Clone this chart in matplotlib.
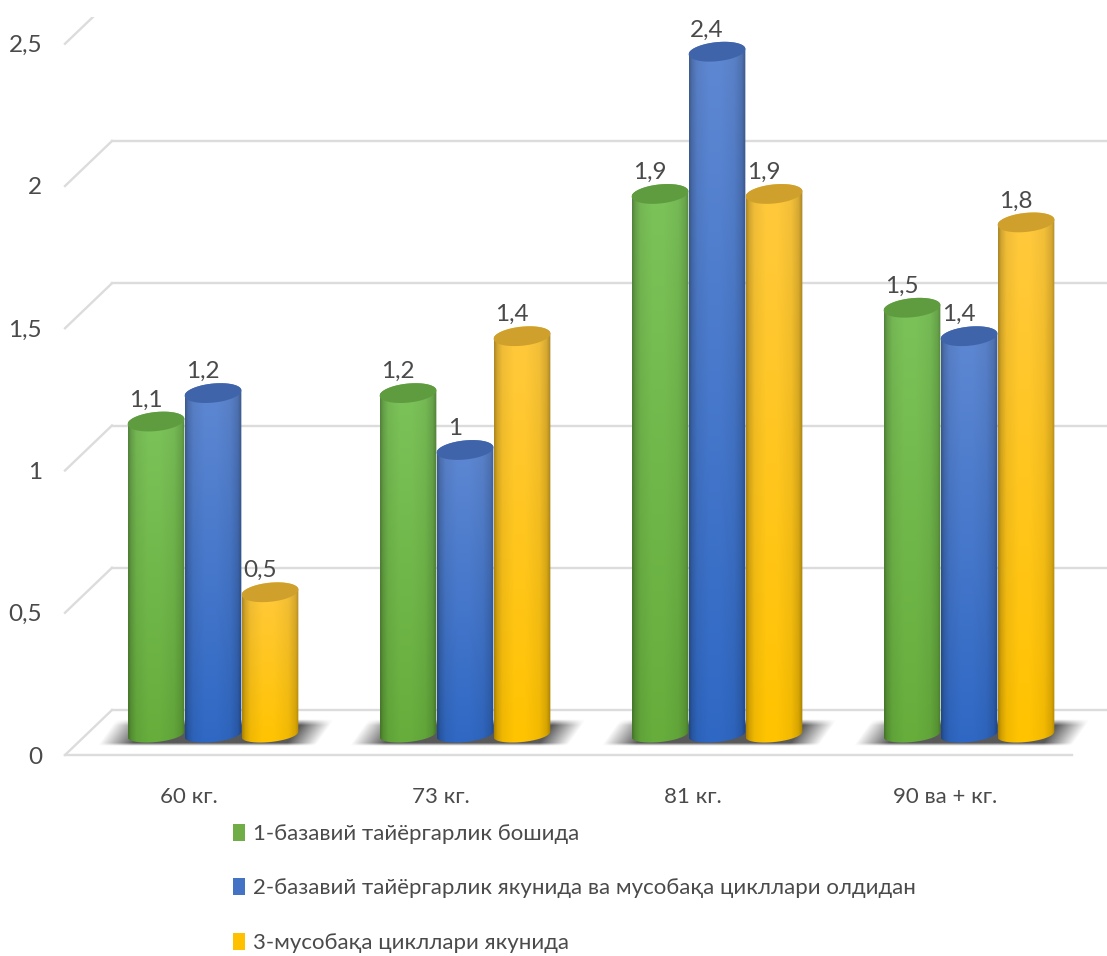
import numpy as np
import matplotlib
matplotlib.use("Agg")
import matplotlib.pyplot as plt
from matplotlib.patches import Patch, Polygon, Rectangle
from matplotlib.colors import to_rgb

plt.rcParams['font.family'] = ['Lato', 'DejaVu Sans']

categories = ["60 кг.", "73 кг.", "81 кг.", "90 ва + кг."]
series_names = ["1-базавий тайёргарлик бошида",
                "2-базавий тайёргарлик якунида ва мусобақа цикллари олдидан",
                "3-мусобақа цикллари якунида"]
stage_1 = [1.1, 1.2, 1.9, 1.5]
stage_2 = [1.2, 1.0, 2.4, 1.4]
stage_3 = [0.5, 1.4, 1.9, 1.8]
y_ticks = [0, 0.5, 1, 1.5, 2, 2.5]

W, H = 1107, 956
PX_X = 252.0      # pixels per category
PX_Y = 284.5      # pixels per unit of value
X0_PX = 213.0     # pixel position of the first group
Y0_PX = 734.5     # pixel position of value 0 at the bar axis
BAR_PX = 57.0
CAP_A, CAP_B, CAP_TILT = 28.5, 9.5, np.radians(6)

BACK = (Y0_PX - 710) / PX_Y     # value shift of the back wall
FRONT = (755 - Y0_PX) / PX_Y    # value shift of the front edge
FLOOR_L_BACK = (112 - X0_PX) / PX_X
FLOOR_L_FRONT = (65 - X0_PX) / PX_X
FLOOR_R_FRONT = (1072 - X0_PX) / PX_X

XMIN, XMAX = -X0_PX / PX_X, (W - X0_PX) / PX_X
YMIN, YMAX = (Y0_PX - H) / PX_Y, Y0_PX / PX_Y

GRID = "#dcdcdc"
TEXT = "#4a4a4a"
palette = [
    dict(top="#7cc35a", bot="#66ad3c", cap="#5f9c40", key="#70ad47"),
    dict(top="#5f88d2", bot="#2f68c4", cap="#3f64aa", key="#4472c4"),
    dict(top="#ffc93e", bot="#ffc300", cap="#cfa02c", key="#ffc000"),
]

fig = plt.figure(figsize=(W / 100, H / 100), dpi=100)
ax = fig.add_axes([0, 0, 1, 1])
ax.set_xlim(XMIN, XMAX)
ax.set_ylim(YMIN, YMAX)
for s in ax.spines.values():
    s.set_visible(False)


def ellipse(cx, v, start, stop, b=CAP_B, n=60):
    """Tilted ellipse arc around (cx, v), returned in data units."""
    t = np.radians(np.linspace(start, stop, n))
    dx = CAP_A * np.cos(t) * np.cos(CAP_TILT) - b * np.sin(t) * np.sin(CAP_TILT)
    dy = CAP_A * np.cos(t) * np.sin(CAP_TILT) + b * np.sin(t) * np.cos(CAP_TILT)
    return np.column_stack([cx + dx / PX_X, v + dy / PX_Y])


def cylinder_texture(top, bot):
    across = np.interp(np.linspace(0, 1, 60),
                       [0, .05, .14, .35, .55, .8, .93, 1],
                       [.68, .82, .94, 1.0, 1.0, .95, .84, .66])
    down = np.linspace(0, 1, 100)[:, None, None]
    c = (1 - down) * np.array(to_rgb(top)) + down * np.array(to_rgb(bot))
    return np.clip(c * across[None, :, None], 0, 1)


def floor_shadow(cx):
    """Soft dark patch on the floor under a group of cylinders."""
    xs = np.linspace(-125, 125, 250)
    ys = np.linspace(-28, 28, 56)          # pixels, upwards positive from value 0
    gx, gy = np.meshgrid(xs, ys)
    slant = (gy + 12) / 27 * 19
    left = np.clip((gx - (-116 + slant)) / 34, 0, 1)
    right = np.clip(((108 + slant - 6) - gx) / 30, 0, 1)
    low = np.clip((gy + 12) / 3, 0, 1)
    high = np.clip((15 - gy) / 6, 0, 1)
    alpha = left * right * low * high
    rgba = np.zeros(alpha.shape + (4,))
    rgba[..., :3] = to_rgb("#505050")
    rgba[..., 3] = alpha * 0.95
    ax.imshow(rgba, origin="lower", aspect="auto", zorder=2, interpolation="bilinear",
              extent=(cx - 125 / PX_X, cx + 125 / PX_X, -28 / PX_Y, 28 / PX_Y))


# back wall and floor lines
for v in y_ticks[1:]:
    ax.plot([FLOOR_L_BACK, XMAX], [v + BACK] * 2, color=GRID, lw=1.7, zorder=1)
for v in y_ticks:
    ax.plot([FLOOR_L_FRONT, FLOOR_L_BACK], [v - FRONT, v + BACK], color=GRID, lw=1.7, zorder=1)
ax.plot([FLOOR_L_BACK, XMAX], [BACK, BACK], color=GRID, lw=1.7, zorder=1)
ax.plot([FLOOR_L_FRONT, FLOOR_R_FRONT], [-FRONT, -FRONT], color=GRID, lw=1.7, zorder=1)

for i in range(len(categories)):
    floor_shadow(i)

# cylinders
for j, vals in enumerate([stage_1, stage_2, stage_3]):
    style = palette[j]
    for i, v in enumerate(vals):
        cx = i + (j - 1) * BAR_PX / PX_X
        low = ellipse(cx, 0, 180, 360, b=7.5)
        high = ellipse(cx, v, 0, 180)
        outline = np.vstack([low, high])
        z = 3 + j + i * 0.01
        body = Polygon(outline, closed=True, transform=ax.transData, fc="none", ec="none")
        ax.add_patch(body)
        im = ax.imshow(cylinder_texture(style["top"], style["bot"]), aspect="auto",
                       interpolation="bilinear", zorder=z,
                       extent=(cx - CAP_A / PX_X, cx + CAP_A / PX_X,
                               -12 / PX_Y, v + 12 / PX_Y))
        im.set_clip_path(body)
        ax.add_patch(Polygon(ellipse(cx, v, 0, 360), closed=True, fc=style["cap"],
                             ec="none", zorder=z + 0.1))
        label = f"{v:g}".replace(".", ",")
        ax.annotate(label, (cx, v), xytext=(-10 * 0.72, 11 * 0.72),
                    textcoords="offset points", ha="center", va="bottom",
                    fontsize=17.5, color=TEXT, zorder=10)

ax.set_xlim(XMIN, XMAX)
ax.set_ylim(YMIN, YMAX)

# the top edge of the plotting area cuts off whatever rises above it
ax.add_patch(Rectangle((XMIN, (Y0_PX - 17) / PX_Y), XMAX - XMIN, 17 / PX_Y,
                       fc="white", ec="none", zorder=20))

# axis labels sit inside the figure, in front of the floor
ax.set_xticks(np.arange(len(categories)) - 24 / PX_X, categories)
ax.set_yticks(np.array(y_ticks) - FRONT,
              [f"{v:g}".replace(".", ",") for v in y_ticks])
ax.tick_params(axis="x", length=0, pad=-(H - 787) * 0.72, labelsize=16, labelcolor=TEXT)
ax.tick_params(axis="y", length=0, pad=-42 * 0.72, labelsize=17.5, labelcolor=TEXT)
ax.patch.set_facecolor("white")

handles = [Patch(fc=p["key"], ec="none") for p in palette]
ax.legend(handles, series_names, loc="upper left", bbox_to_anchor=(233 / W, 1 - 824 / H),
          bbox_transform=fig.transFigure, frameon=False, fontsize=16, labelcolor=TEXT,
          handlelength=0.55, handleheight=0.77, handletextpad=0.36, labelspacing=1.55,
          borderpad=0, borderaxespad=0)

fig.savefig("out.png", dpi=100)
